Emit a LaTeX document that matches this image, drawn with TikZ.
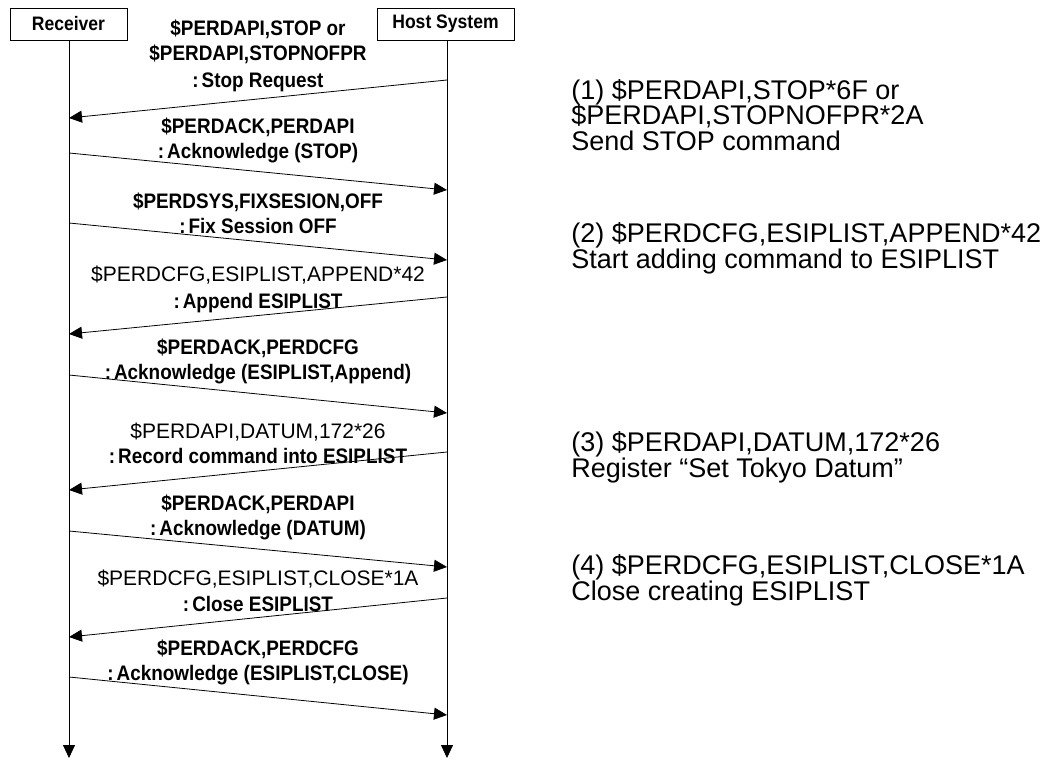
\documentclass[tikz,border=0pt]{standalone}
\usepackage{fontspec}
\setmainfont{Liberation Sans}
\newfontfamily\jpgothic[FakeStretch=0.9]{Liberation Sans}
\usetikzlibrary{arrows.meta}
\newcommand{\jcolon}{:\kern3pt}
\begin{document}
\begin{tikzpicture}[x=1pt,y=-1pt,line width=0.8pt,
  hdr/.style={draw,line width=0.8pt,font=\jpgothic\fontsize{19.5}{22}\selectfont\bfseries,minimum height=32pt,inner sep=0pt},
  msg/.style={-{Triangle[length=13pt,width=12pt]}},
  bl/.style={anchor=base,font=\jpgothic\fontsize{21}{24}\selectfont\bfseries,inner sep=0pt},
  rl/.style={anchor=base,font=\fontsize{21}{24}\selectfont,inner sep=0pt},
  note/.style={anchor=base west,font=\fontsize{27}{30}\selectfont,inner sep=0pt}]
\useasboundingbox (0,0) rectangle (1064,762);
% headers
\node[hdr,minimum width=117pt] (rec) at (68.5,24) {Receiver};
\node[hdr,minimum width=137pt] (host) at (445.5,24) {Host System};
% lifelines
\coordinate (rtop) at (69,40);  \coordinate (htop) at (447,40);
\coordinate (rend) at (69,758); \coordinate (hend) at (447,758);
\draw[msg] (rtop) -- (rend);
\draw[msg] (htop) -- (hend);
% message end points
\coordinate (h1) at (447,80);  \coordinate (r1) at (69,118);
\coordinate (r2) at (69,153);  \coordinate (h2) at (447,190);
\coordinate (r3) at (69,223);  \coordinate (h3) at (447,260);
\coordinate (h4) at (447,297); \coordinate (r4) at (69,334);
\coordinate (r5) at (69,375);  \coordinate (h5) at (447,413);
\coordinate (h6) at (447,452); \coordinate (r6) at (69,490);
\coordinate (r7) at (69,531);  \coordinate (h7) at (447,567);
\coordinate (h8) at (447,598); \coordinate (r8) at (69,637);
\coordinate (r9) at (69,677);  \coordinate (h9) at (447,715);
\draw[msg] (h1) -- (r1);
\draw[msg] (r2) -- (h2);
\draw[msg] (r3) -- (h3);
\draw[msg] (h4) -- (r4);
\draw[msg] (r5) -- (h5);
\draw[msg] (h6) -- (r6);
\draw[msg] (r7) -- (h7);
\draw[msg] (h8) -- (r8);
\draw[msg] (r9) -- (h9);
% labels
\node[bl] (m1a) at (258,36) {\$PERDAPI,STOP or};
\node[bl] (m1b) at (258,61) {\$PERDAPI,STOPNOFPR};
\node[bl] (m1c) at (258,88) {\jcolon Stop Request};
\node[bl] (m2a) at (258,134) {\$PERDACK,PERDAPI};
\node[bl] (m2b) at (258,159) {\jcolon Acknowledge (STOP)};
\node[bl] (m3a) at (258,208) {\$PERDSYS,FIXSESION,OFF};
\node[bl] (m3b) at (258,233) {\jcolon Fix Session OFF};
\node[rl] (m4a) at (258,281.5) {\$PERDCFG,ESIPLIST,APPEND*42};
\node[bl] (m4b) at (258,308) {\jcolon Append ESIPLIST};
\node[bl] (m5a) at (258,354) {\$PERDACK,PERDCFG};
\node[bl] (m5b) at (258,379) {\jcolon Acknowledge (ESIPLIST,Append)};
\node[rl] (m6a) at (258,438.5) {\$PERDAPI,DATUM,172*26};
\node[bl] (m6b) at (258,463) {\jcolon Record command into ESIPLIST};
\node[bl] (m7a) at (258,510) {\$PERDACK,PERDAPI};
\node[bl] (m7b) at (258,535) {\jcolon Acknowledge (DATUM)};
\node[rl] (m8a) at (258,585.5) {\$PERDCFG,ESIPLIST,CLOSE*1A};
\node[bl] (m8b) at (258,611) {\jcolon Close ESIPLIST};
\node[bl] (m9a) at (258,655) {\$PERDACK,PERDCFG};
\node[bl] (m9b) at (258,680) {\jcolon Acknowledge (ESIPLIST,CLOSE)};
% notes
\node[note] (n1a) at (571,99.5) {(1) \$PERDAPI,STOP*6F or};
\node[note] (n1b) at (571,125) {\$PERDAPI,STOPNOFPR*2A};
\node[note] (n1c) at (571,151) {Send STOP command};
\node[note] (n2a) at (571,242.5) {(2) \$PERDCFG,ESIPLIST,APPEND*42};
\node[note] (n2b) at (571,268) {Start adding command to ESIPLIST};
\node[note] (n3a) at (571,451) {(3) \$PERDAPI,DATUM,172*26};
\node[note] (n3b) at (571,477) {Register “Set Tokyo Datum”};
\node[note] (n4a) at (571,574.5) {(4) \$PERDCFG,ESIPLIST,CLOSE*1A};
\node[note] (n4b) at (571,600) {Close creating ESIPLIST};
\end{tikzpicture}
\end{document}
